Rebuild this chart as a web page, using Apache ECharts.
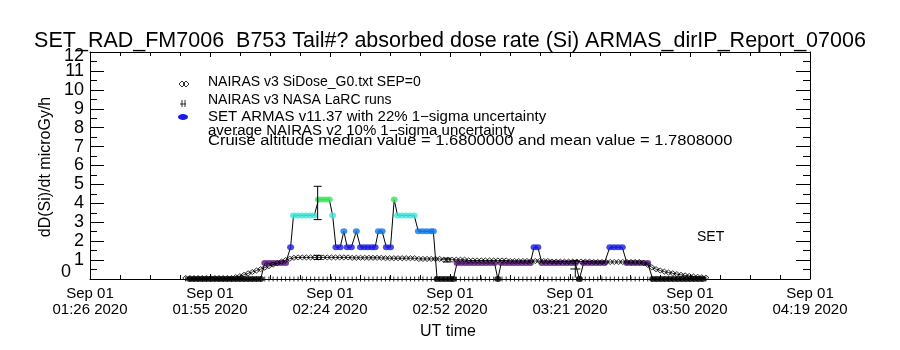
<!DOCTYPE html>
<html>
<head>
<meta charset="utf-8">
<script src="https://cdn.jsdelivr.net/npm/echarts@6/dist/echarts.min.js"></script>
<style>
    html, body{ margin:0; padding:0; background:#fff; }
    #chart{ width:900px; height:350px; }
</style>
</head>
<body>
<div id="chart"></div>
<script>
    // x is minutes after 01:26 UT, Sep 01 2020
    var xSpan = 173;
    var tickDates = ['Sep 01', 'Sep 01', 'Sep 01', 'Sep 01', 'Sep 01', 'Sep 01', 'Sep 01'];
    var tickTimes = ['01:26 2020', '01:55 2020', '02:24 2020', '02:52 2020', '03:21 2020', '03:50 2020', '04:19 2020'];
    var yTickLabels = ['0', '1', '2', '3', '4', '5', '6', '7', '8', '9', '10', '11', '12'];

    // SET ARMAS dose rate (colored dots)
    var armasTime = [
        24, 25, 26, 27, 28, 29, 30, 31, 32, 33, 34, 35, 36, 37, 38, 39, 40, 41,
        42, 43, 44, 45, 46, 47,
        48.2,
        48.9, 49.9, 50.9, 51.9, 52.9, 53.9,
        54.9, 55.8, 56.7, 57.5,
        58.3,
        59.1, 60.1,
        61.0,
        61.8, 62.8,
        64.0,
        65.0, 65.9, 66.8, 67.7, 68.5,
        69.3, 70.2,
        71.2, 72.2,
        73.1,
        73.9, 74.9, 75.9, 76.9, 77.9,
        78.9, 79.9, 80.9, 81.9, 82.5,
        83.4, 84.4, 85.4, 86.4, 87.3,
        88.2, 89.2, 90.2, 91.2, 92.2, 93.2, 94.2, 95.2, 96.2, 97.2,
        98.0,
        98.8, 99.8, 100.8, 101.8, 102.8, 103.8, 104.8, 105.8,
        106.7, 107.6,
        108.6, 109.6, 110.6, 111.6, 112.6, 113.6, 114.6, 115.6, 116.6,
        117.6,
        118.6, 119.6, 120.6, 121.6, 122.6, 123.6,
        124.9, 125.9, 126.9, 127.9,
        129.0, 130.0, 131.0, 132.0, 133.0, 134.0,
        135.2, 136.2, 137.2, 138.2, 139.2, 140.2, 141.2, 142.2, 143.2, 144.2, 145.2, 146.2, 147.2
    ];
    var armasDose = [
        0, 0, 0, 0, 0, 0, 0, 0, 0, 0, 0, 0, 0, 0, 0, 0, 0, 0,
        0.84, 0.84, 0.84, 0.84, 0.84, 0.84,
        1.68,
        3.36, 3.36, 3.36, 3.36, 3.36, 3.36,
        4.2, 4.2, 4.2, 4.2,
        3.36,
        1.68, 1.68,
        2.52,
        1.68, 1.68,
        2.52,
        1.68, 1.68, 1.68, 1.68, 1.68,
        2.52, 2.52,
        1.68, 1.68,
        4.2,
        3.36, 3.36, 3.36, 3.36, 3.36,
        2.52, 2.52, 2.52, 2.52, 2.52,
        0, 0, 0, 0, 0,
        0.84, 0.84, 0.84, 0.84, 0.84, 0.84, 0.84, 0.84, 0.84, 0.84,
        0,
        0.84, 0.84, 0.84, 0.84, 0.84, 0.84, 0.84, 0.84,
        1.68, 1.68,
        0.84, 0.84, 0.84, 0.84, 0.84, 0.84, 0.84, 0.84, 0.84,
        0,
        0.84, 0.84, 0.84, 0.84, 0.84, 0.84,
        1.68, 1.68, 1.68, 1.68,
        0.84, 0.84, 0.84, 0.84, 0.84, 0.84,
        0, 0, 0, 0, 0, 0, 0, 0, 0, 0, 0, 0, 0
    ];

    // NAIRAS v3 SiDose_G0 (diamonds)
    var nairasTime = [
        23, 24, 25, 26, 27, 28, 29, 30, 31, 32, 33, 34,
        35, 36, 37, 38, 39, 40, 41, 42, 43, 44, 45, 46, 47, 48, 49,
        50, 51, 52, 53, 54, 55, 56, 57, 58, 59, 60, 61, 62,
        63, 64, 65, 66, 67, 68, 69, 70,
        71, 72, 73, 74, 75, 76, 77, 78,
        79, 80, 81, 82, 83, 84,
        85, 86, 87, 88, 89, 90,
        91, 92, 93, 94, 95, 96, 97, 98, 99, 100,
        101, 102, 103, 104, 105, 106, 107, 108, 109, 110,
        111, 112, 113, 114, 115, 116, 117, 118, 119, 120,
        121, 122, 123, 124, 125, 126, 127, 128, 129, 130, 131, 132,
        133, 134, 135, 136, 137, 138, 139, 140, 141, 142, 143, 144, 145, 146, 147, 148
    ];
    var nairasDose = [
        0.05, 0.05, 0.05, 0.05, 0.05, 0.05, 0.05, 0.05, 0.05, 0.05, 0.05, 0.05,
        0.1, 0.15, 0.22, 0.3, 0.37, 0.45, 0.52, 0.6, 0.68, 0.76, 0.84, 0.92, 1.0, 1.07, 1.12,
        1.14, 1.14, 1.14, 1.14, 1.14, 1.14, 1.14, 1.14, 1.14, 1.14, 1.14, 1.14, 1.14,
        1.12, 1.12, 1.12, 1.12, 1.12, 1.12, 1.12, 1.12,
        1.1, 1.1, 1.1, 1.1, 1.1, 1.1, 1.1, 1.1,
        1.06, 1.06, 1.06, 1.06, 1.06, 1.06,
        1.02, 1.02, 1.02, 1.02, 1.02, 1.02,
        0.98, 0.98, 0.98, 0.98, 0.98, 0.98, 0.98, 0.98, 0.98, 0.98,
        0.95, 0.95, 0.95, 0.95, 0.95, 0.95, 0.95, 0.95, 0.95, 0.95,
        0.92, 0.92, 0.92, 0.92, 0.92, 0.92, 0.92, 0.92, 0.92, 0.92,
        0.9, 0.9, 0.9, 0.9, 0.9, 0.9, 0.9, 0.9, 0.9, 0.9, 0.9, 0.9,
        0.85, 0.75, 0.62, 0.52, 0.45, 0.39, 0.34, 0.3, 0.26, 0.22, 0.19, 0.16, 0.13, 0.11, 0.09, 0.07
    ];

    // error bars: time, centre, half width
    var errTime = [54.7, 54.7, 85.8];
    var errMid = [4.02, 1.14, 1.0];
    var errHalf = [0.88, 0.11, 0.1];

    // NAIRAS v3 NASA LaRC runs
    var larcTime = [116.6];
    var larcDose = [0.53];
    var larcHalf = [0.45];

    var FONT = "'Liberation Sans', Arial, sans-serif";

    function pairs(xs, ys){
        return xs.map(function(x, i){ return [x, ys[i]]; });
    }

    function renderErr(params, api){
        var lo = api.coord([api.value(0), api.value(1) - api.value(2)]);
        var hi = api.coord([api.value(0), api.value(1) + api.value(2)]);
        var w = 4;
        var st = { stroke: '#000', lineWidth: 1 };
        return {
            type: 'group',
            children: [
                { type: 'line', shape: { x1: hi[0], y1: hi[1], x2: lo[0], y2: lo[1] }, style: st },
                { type: 'line', shape: { x1: hi[0] - w, y1: hi[1], x2: hi[0] + w, y2: hi[1] }, style: st },
                { type: 'line', shape: { x1: lo[0] - w, y1: lo[1], x2: lo[0] + w, y2: lo[1] }, style: st }
            ]
        };
    }

    function renderPlus(params, api){
        var c = api.coord([api.value(0), api.value(1)]);
        var lo = api.coord([api.value(0), api.value(1) - api.value(2)]);
        var hi = api.coord([api.value(0), api.value(1) + api.value(2)]);
        var st = { stroke: '#000', lineWidth: 1 };
        return {
            type: 'group',
            children: [
                { type: 'line', shape: { x1: hi[0], y1: hi[1], x2: lo[0], y2: lo[1] }, style: st },
                { type: 'line', shape: { x1: c[0] - 5, y1: c[1], x2: c[0] + 5, y2: c[1] }, style: st },
                { type: 'line', shape: { x1: hi[0] - 3, y1: hi[1], x2: hi[0] + 3, y2: hi[1] }, style: st }
            ]
        };
    }

    var axisBlack = { show: true, onZero: false, lineStyle: { color: '#000', width: 1 } };

    function xAxisCfg(pos, showLabel){
        return {
            type: 'value', position: pos, min: 0, max: xSpan, interval: xSpan / 6,
            axisLine: axisBlack,
            axisTick: { show: true, inside: true, length: 5, lineStyle: { color: '#000' } },
            minorTick: { show: true, splitNumber: 4, length: 4, lineStyle: { color: '#000' } },
            splitLine: { show: false },
            minorSplitLine: { show: false },
            axisLabel: {
                show: showLabel, color: '#000', fontFamily: FONT, fontSize: 15, lineHeight: 16, margin: 7,
                showMinLabel: true, showMaxLabel: true,
                formatter: function(v){
                    var i = Math.round(v / (xSpan / 6));
                    return tickDates[i] + '\n' + tickTimes[i];
                }
            }
        };
    }

    function yAxisCfg(pos, showLabel){
        return {
            type: 'value', position: pos, min: 0, max: 12, interval: 1,
            axisLine: axisBlack,
            axisTick: { show: true, inside: true, length: 14, lineStyle: { color: '#000' } },
            minorTick: { show: true, splitNumber: 2, length: 7, lineStyle: { color: '#000' } },
            splitLine: { show: false },
            minorSplitLine: { show: false },
            axisLabel: {
                show: showLabel, color: '#000', fontFamily: FONT, fontSize: 18, margin: 6,
                showMinLabel: false, showMaxLabel: false,
                formatter: function(v){ return yTickLabels[v]; }
            }
        };
    }

    // end labels 0 and 12 sit inside the frame, as in the original plot
    var yEndLabels = {
        type: 'value', position: 'left', min: 0, max: 12, interval: 12,
        axisLine: { show: false, onZero: false }, axisTick: { show: false },
        minorTick: { show: false }, splitLine: { show: false },
        axisLabel: {
            color: '#000', fontFamily: FONT, fontSize: 18, lineHeight: 12, margin: 6,
            showMinLabel: true, showMaxLabel: true,
            formatter: function(v){
                return v === 0 ? '{z|' + yTickLabels[0] + '}' : '{t|' + yTickLabels[12] + '}';
            },
            rich: {
                z: { fontFamily: FONT, fontSize: 18, lineHeight: 12, color: '#000', padding: [0, 13, 14, 0] },
                t: { fontFamily: FONT, fontSize: 18, lineHeight: 12, color: '#000', padding: [8, 0, 0, 0] }
            }
        }
    };

    function txt(x, y, s, size, extra, sx){
        var o = {
            type: 'text', x: x, y: y, silent: true, scaleX: sx || 1,
            style: { text: s, fill: '#000', font: size + 'px ' + FONT, textVerticalAlign: 'middle' }
        };
        if (extra) { for (var k in extra) { o.style[k] = extra[k]; } }
        return o;
    }

    var sym = { fill: 'none', stroke: '#000', lineWidth: 0.8 };

    var option = {
        animation: false,
        backgroundColor: '#fff',
        title: {
            text: 'SET_RAD_FM7006  B753 Tail#? absorbed dose rate (Si) ARMAS_dirIP_Report_07006',
            left: 'center', top: 25,
            textStyle: { color: '#000', fontFamily: FONT, fontSize: 21.5, fontWeight: 'normal' }
        },
        grid: { left: 90, right: 90, top: 52, bottom: 71, outerBoundsMode: 'none' },
        xAxis: [xAxisCfg('bottom', true), xAxisCfg('top', false)],
        yAxis: [yAxisCfg('left', true), yAxisCfg('right', false), yEndLabels],
        visualMap: {
            show: false, type: 'piecewise', seriesIndex: 1, dimension: 1,
            pieces: [
                { lt: 0.4, color: '#000000' },
                { gte: 0.4, lt: 1.2, color: '#551478' },
                { gte: 1.2, lt: 2.1, color: '#1a1ae6' },
                { gte: 2.1, lt: 2.9, color: '#0f78eb' },
                { gte: 2.9, lt: 3.8, color: '#3ce6d7' },
                { gte: 3.8, color: '#3ce664' }
            ]
        },
        graphic: [
            { type: 'polygon', silent: true, shape: { points: [[179, 84], [182, 81], [185, 84], [182, 87]] }, style: sym },
            { type: 'polygon', silent: true, shape: { points: [[183, 84], [186, 81], [189, 84], [186, 87]] }, style: sym },
            { type: 'line', silent: true, shape: { x1: 180, y1: 104, x2: 186, y2: 104 }, style: sym },
            { type: 'line', silent: true, shape: { x1: 182, y1: 100, x2: 182, y2: 107 }, style: sym },
            { type: 'line', silent: true, shape: { x1: 185, y1: 100, x2: 185, y2: 107 }, style: sym },
            { type: 'ellipse', silent: true, shape: { cx: 183, cy: 117, rx: 5, ry: 3 }, style: { fill: '#1a1ae6' } },
            txt(208, 82, 'NAIRAS v3 SiDose_G0.txt SEP=0', 14),
            txt(208, 100, 'NAIRAS v3 NASA LaRC runs', 14),
            txt(208, 117, 'SET ARMAS v11.37 with 22% 1\u2212sigma uncertainty', 14, null, 1.07),
            txt(208, 131, 'average NAIRAS v2 10% 1\u2212sigma uncertainty', 14, null, 1.07),
            txt(208, 141, 'Cruise altitude median value = 1.6800000 and mean value = 1.7808000', 14, null, 1.18),
            txt(697, 237, 'SET', 14),
            txt(448, 332, 'UT time', 16, { textAlign: 'center' }),
            {
                type: 'text', x: 46, y: 167, rotation: Math.PI / 2, silent: true,
                style: { text: 'dD(Si)/dt microGy/h', fill: '#000', font: '16px ' + FONT,
                         textAlign: 'center', textVerticalAlign: 'middle' }
            }
        ],
        series: [
            {
                name: 'ARMAS line', type: 'line', data: pairs(armasTime, armasDose),
                showSymbol: false, lineStyle: { color: '#000', width: 1 }, z: 2
            },
            {
                name: 'ARMAS', type: 'scatter', data: pairs(armasTime, armasDose),
                symbol: 'circle', symbolSize: [7, 6], z: 3
            },
            {
                name: 'NAIRAS', type: 'line', data: pairs(nairasTime, nairasDose),
                symbol: 'diamond', symbolSize: [6, 5], showAllSymbol: true,
                itemStyle: { color: 'rgba(0,0,0,0)', borderColor: '#000', borderWidth: 0.8 },
                lineStyle: { color: '#000', width: 0.8 }, z: 4
            },
            {
                name: 'NAIRAS rug', type: 'scatter',
                data: nairasTime.map(function(t){ return [t, 0]; }),
                symbol: 'rect', symbolSize: [1, 5], itemStyle: { color: '#000' }, z: 4
            },
            {
                name: 'uncertainty', type: 'custom', renderItem: renderErr,
                data: errTime.map(function(t, i){ return [t, errMid[i], errHalf[i]]; }), z: 5
            },
            {
                name: 'LaRC', type: 'custom', renderItem: renderPlus,
                data: larcTime.map(function(t, i){ return [t, larcDose[i], larcHalf[i]]; }), z: 5
            }
        ]
    };

    echarts.init(document.getElementById('chart')).setOption(option);
</script>
</body>
</html>
